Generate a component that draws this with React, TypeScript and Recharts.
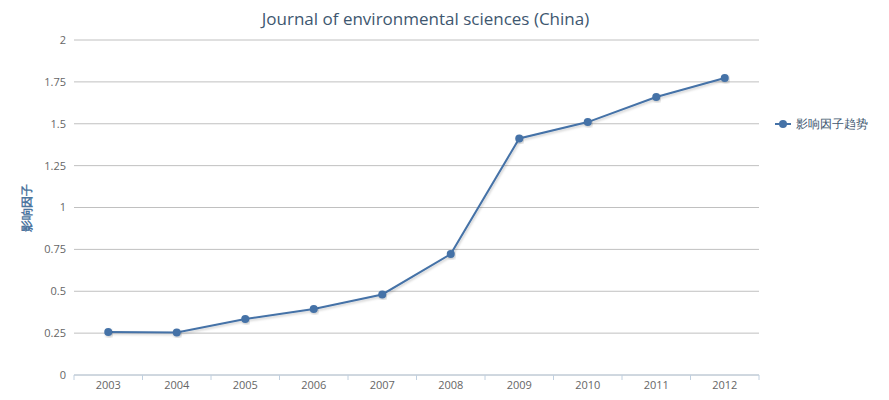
import React from 'react';
import { LineChart, Line, XAxis, YAxis, CartesianGrid } from 'recharts';

const years = ['2003', '2004', '2005', '2006', '2007', '2008', '2009', '2010', '2011', '2012'];
const impactFactor = [0.257, 0.254, 0.334, 0.394, 0.481, 0.722, 1.412, 1.51, 1.66, 1.773];
const yTicks = [0, 0.25, 0.5, 0.75, 1, 1.25, 1.5, 1.75, 2];

const title = 'Journal of environmental sciences (China)';
const seriesName = '影响因子趋势';
const yTitle = '影响因子';

const data = years.map((y, i) => ({ year: y, value: impactFactor[i] }));

const FONT = '"Open Sans", "DejaVu Sans", sans-serif';
const LINE = '#4572A7';

const XTick = (props: any) => {
  const { x, y, payload, index, width, visibleTicksCount } = props;
  const band = width && visibleTicksCount ? width / visibleTicksCount : 68.5;
  const isLast = index === visibleTicksCount - 1;
  return (
    <g>
      <line x1={x - band / 2} x2={x - band / 2} y1={y} y2={y + 5} stroke="#C0D0E0" />
      {isLast && <line x1={x + band / 2} x2={x + band / 2} y1={y} y2={y + 5} stroke="#C0D0E0" />}
      <text x={x} y={y + 14} textAnchor="middle" fontSize={11} fill="#666" fontFamily={FONT}>
        {payload.value}
      </text>
    </g>
  );
};

const YTitle = (props: any) => {
  const vb = props.viewBox || { x: 0, y: 40, width: 74, height: 335 };
  const cx = 26;
  const cy = vb.y + vb.height / 2;
  return (
    <text
      x={cx}
      y={cy}
      transform={`rotate(-90 ${cx} ${cy})`}
      textAnchor="middle"
      dominantBaseline="central"
      fontSize={12}
      fontWeight="bold"
      fill="#4D759E"
      fontFamily={FONT}
    >
      {yTitle}
    </text>
  );
};

export default function App() {
  return (
    <div style={{ position: 'absolute', left: 0, top: 0, width: 889, height: 400, background: '#fff', fontFamily: FONT }}>
      <div
        style={{
          position: 'absolute',
          left: 0,
          top: 7,
          width: 851,
          textAlign: 'center',
          fontSize: 17,
          color: '#3E576F',
          lineHeight: '24px',
        }}
      >
        {title}
      </div>
      <LineChart
        width={889}
        height={400}
        data={data}
        margin={{ top: 40, right: 130, bottom: 0, left: 0 }}
      >
        <defs>
          <filter id="lineShadow" x="-5%" y="-5%" width="110%" height="120%">
            <feDropShadow dx="1" dy="1.5" stdDeviation="1" floodColor="#000" floodOpacity="0.2" />
          </filter>
        </defs>
        <CartesianGrid vertical={false} stroke="#C0C0C0" />
        <XAxis
          dataKey="year"
          scale="band"
          height={25}
          tickSize={0}
          tickMargin={0}
          tickLine={false}
          axisLine={{ stroke: '#C0D0E0' }}
          tick={<XTick />}
          interval={0}
        />
        <YAxis
          width={74}
          domain={[0, 2]}
          ticks={yTicks}
          axisLine={false}
          tickLine={false}
          tick={{ fontSize: 11, fill: '#666', fontFamily: FONT }}
          label={<YTitle />}
        />
        <Line
          type="linear"
          dataKey="value"
          name={seriesName}
          stroke={LINE}
          strokeWidth={2}
          filter="url(#lineShadow)"
          dot={{ r: 4, fill: LINE, stroke: LINE, strokeWidth: 0 }}
          isAnimationActive={false}
        />
      </LineChart>
      <div
        style={{
          position: 'absolute',
          left: 774,
          top: 115,
          display: 'flex',
          alignItems: 'center',
          fontSize: 12,
          color: '#3E576F',
        }}
      >
        <svg width={18} height={18}>
          <line x1={1} x2={17} y1={9} y2={9} stroke={LINE} strokeWidth={2} />
          <circle cx={9} cy={9} r={4} fill={LINE} />
        </svg>
        <span style={{ marginLeft: 4 }}>{seriesName}</span>
      </div>
    </div>
  );
}
